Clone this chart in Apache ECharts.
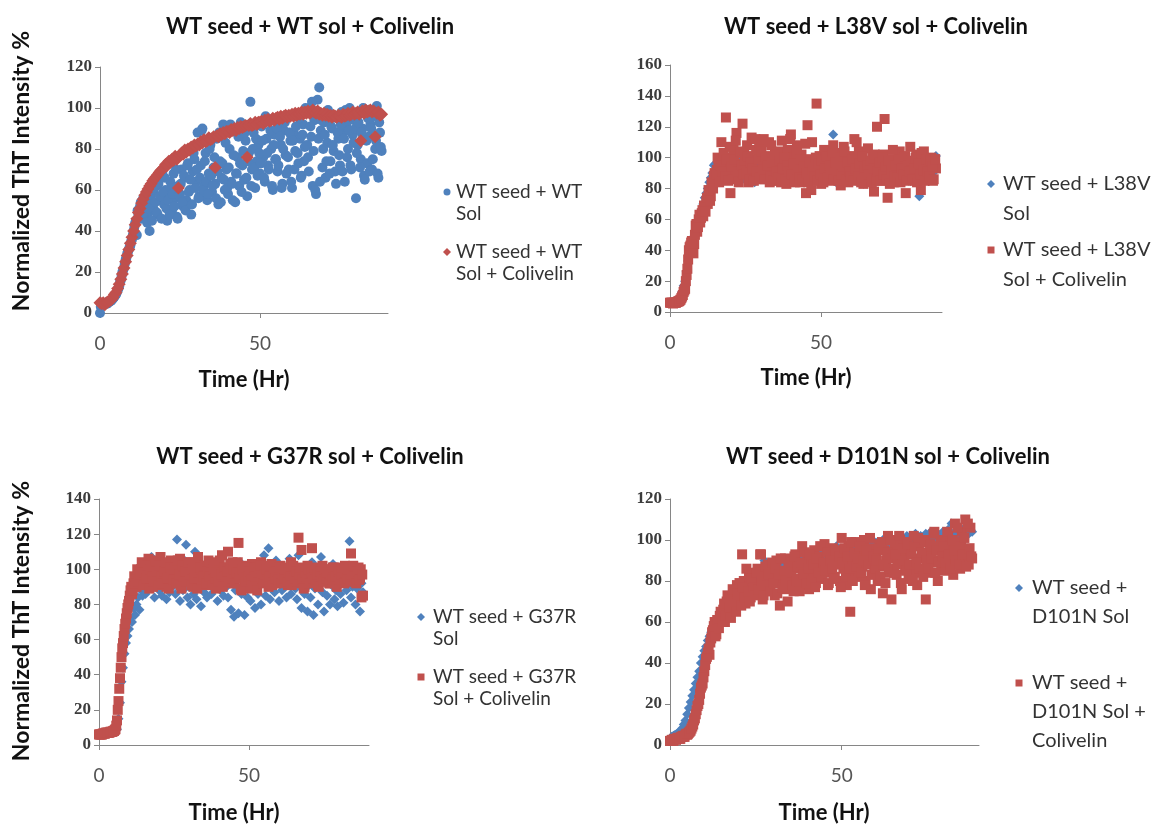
<!DOCTYPE html>
<html>
<head>
<meta charset="utf-8">
<script src="https://cdn.jsdelivr.net/npm/echarts@6/dist/echarts.min.js"></script>
<style>
  html, body { margin: 0; padding: 0; background: #fff; }
  #chart { width: 1159px; height: 825px; }
</style>
</head>
<body>
<div id="chart"></div>
<script>
// readings on the half hour, shared by all four runs
const hours = [
  0, 0.5, 1, 1.5, 2, 2.5, 3, 3.5, 4, 4.5,
  5, 5.5, 6, 6.5, 7, 7.5, 8, 8.5, 9, 9.5,
  10, 10.5, 11, 11.5, 12, 12.5, 13, 13.5, 14, 14.5,
  15, 15.5, 16, 16.5, 17, 17.5, 18, 18.5, 19, 19.5,
  20, 20.5, 21, 21.5, 22, 22.5, 23, 23.5, 24, 24.5,
  25, 25.5, 26, 26.5, 27, 27.5, 28, 28.5, 29, 29.5,
  30, 30.5, 31, 31.5, 32, 32.5, 33, 33.5, 34, 34.5,
  35, 35.5, 36, 36.5, 37, 37.5, 38, 38.5, 39, 39.5,
  40, 40.5, 41, 41.5, 42, 42.5, 43, 43.5, 44, 44.5,
  45, 45.5, 46, 46.5, 47, 47.5, 48, 48.5, 49, 49.5,
  50, 50.5, 51, 51.5, 52, 52.5, 53, 53.5, 54, 54.5,
  55, 55.5, 56, 56.5, 57, 57.5, 58, 58.5, 59, 59.5,
  60, 60.5, 61, 61.5, 62, 62.5, 63, 63.5, 64, 64.5,
  65, 65.5, 66, 66.5, 67, 67.5, 68, 68.5, 69, 69.5,
  70, 70.5, 71, 71.5, 72, 72.5, 73, 73.5, 74, 74.5,
  75, 75.5, 76, 76.5, 77, 77.5, 78, 78.5, 79, 79.5,
  80, 80.5, 81, 81.5, 82, 82.5, 83, 83.5, 84, 84.5,
  85, 85.5, 86, 86.5, 87, 87.5, 88
];
// in-between readings (quarter past / quarter to)
const hoursB = [
  0.25, 0.75, 1.25, 1.75, 2.25, 2.75, 3.25, 3.75, 4.25, 4.75,
  5.25, 5.75, 6.25, 6.75, 7.25, 7.75, 8.25, 8.75, 9.25, 9.75,
  10.25, 10.75, 11.25, 11.75, 12.25, 12.75, 13.25, 13.75, 14.25, 14.75,
  15.25, 15.75, 16.25, 16.75, 17.25, 17.75, 18.25, 18.75, 19.25, 19.75,
  20.25, 20.75, 21.25, 21.75, 22.25, 22.75, 23.25, 23.75, 24.25, 24.75,
  25.25, 25.75, 26.25, 26.75, 27.25, 27.75, 28.25, 28.75, 29.25, 29.75,
  30.25, 30.75, 31.25, 31.75, 32.25, 32.75, 33.25, 33.75, 34.25, 34.75,
  35.25, 35.75, 36.25, 36.75, 37.25, 37.75, 38.25, 38.75, 39.25, 39.75,
  40.25, 40.75, 41.25, 41.75, 42.25, 42.75, 43.25, 43.75, 44.25, 44.75,
  45.25, 45.75, 46.25, 46.75, 47.25, 47.75, 48.25, 48.75, 49.25, 49.75,
  50.25, 50.75, 51.25, 51.75, 52.25, 52.75, 53.25, 53.75, 54.25, 54.75,
  55.25, 55.75, 56.25, 56.75, 57.25, 57.75, 58.25, 58.75, 59.25, 59.75,
  60.25, 60.75, 61.25, 61.75, 62.25, 62.75, 63.25, 63.75, 64.25, 64.75,
  65.25, 65.75, 66.25, 66.75, 67.25, 67.75, 68.25, 68.75, 69.25, 69.75,
  70.25, 70.75, 71.25, 71.75, 72.25, 72.75, 73.25, 73.75, 74.25, 74.75,
  75.25, 75.75, 76.25, 76.75, 77.25, 77.75, 78.25, 78.75, 79.25, 79.75,
  80.25, 80.75, 81.25, 81.75, 82.25, 82.75, 83.25, 83.75, 84.25, 84.75,
  85.25, 85.75, 86.25, 86.75, 87.25, 87.75
];

// --- WT seed + WT sol ---
const wtSol = [
  0, 4, 4, 4.5, 5, 5, 5.5, 6, 7, 8,
  9, 11, 13, 16, 20, 22, 26, 29, 31, 33,
  36, 40, 44, 38, 48, 52, 46, 56, 50, 55,
  47, 40, 58, 52, 50, 62, 48, 65, 55, 69,
  53, 60, 45, 57, 64, 50, 68, 56, 47, 62,
  58, 70, 52, 66, 55, 73, 60, 48, 69, 75,
  64, 88, 57, 72, 90, 62, 78, 55, 68, 82,
  59, 71, 63, 85, 53, 74, 66, 92, 60, 70,
  58, 80, 64, 55, 89, 68, 76, 62, 93, 72,
  65, 84, 57, 78, 103, 70, 88, 61, 74, 82,
  68, 91, 76, 64, 85, 72, 94, 80, 60, 87,
  75, 69, 92, 82, 63, 89, 77, 95, 70, 84,
  61, 88, 79, 96, 73, 85, 67, 92, 81, 98,
  76, 100, 86, 62, 94, 58, 104, 110, 89, 71,
  93, 66, 83, 97, 74, 90, 79, 69, 95, 85,
  72, 98, 88, 64, 92, 80, 100, 70, 87, 94,
  56, 82, 97, 75, 90, 67, 99, 73, 86, 92,
  70, 96, 80, 101, 66, 88, 79
];
const wtSolB = [
  3, 4, 4.5, 5, 4.5, 5.5, 6, 6.5, 7.5, 8.5,
  10, 12, 15, 18, 21, 24, 27, 30, 32, 35,
  38, 42, 45, 50, 47, 54, 53, 49, 57, 44,
  51, 56, 45, 60, 54, 49, 63, 57, 46, 59,
  66, 51, 55, 48, 61, 58, 52, 70, 46, 57,
  63, 54, 67, 50, 72, 59, 65, 53, 78, 61,
  70, 56, 66, 89, 60, 74, 64, 58, 80, 67,
  62, 76, 56, 69, 88, 54, 73, 65, 83, 61,
  71, 92, 63, 77, 54, 68, 86, 73, 59, 79,
  88, 66, 74, 92, 62, 80, 71, 85, 67, 78,
  73, 84, 66, 96, 78, 70, 89, 62, 82, 75,
  90, 72, 86, 61, 80, 93, 68, 76, 88, 64,
  84, 70, 91, 78, 95, 66, 87, 74, 100, 82,
  69, 91, 103, 79, 60, 96, 85, 64, 94, 80,
  87, 74, 99, 68, 91, 82, 96, 63, 88, 77,
  92, 69, 85, 99, 76, 89, 72, 96, 83, 90,
  78, 93, 71, 88, 100, 65, 84, 95, 69, 90,
  75, 97, 84, 68, 93, 81
];
const wtSolCol = [
  5, 4.5, 5, 4, 5, 5.5, 6, 6.5, 7.5, 9,
  10, 12, 14, 16.5, 19, 22, 25, 28, 31, 34,
  37, 40, 43, 46, 49, 51, 53.5, 55.5, 57.5, 59,
  60.5, 62, 63, 64.5, 65.5, 66.5, 67.5, 68.5, 69.5, 70,
  71, 72.5, 72, 74, 73.5, 75, 74.5, 76.5, 75, 61,
  77, 78, 77.5, 79.5, 78.5, 80, 79.5, 81, 80.5, 82,
  81.5, 82.5, 82, 83.5, 83, 84.5, 83.5, 84, 85.5, 84.5,
  85, 86, 71, 86.5, 86, 87.5, 87, 88, 87.5, 88.5,
  88.5, 88, 89.5, 89, 90, 89, 90.5, 90, 91, 90.5,
  91, 91.5, 76, 91.5, 92.5, 91.5, 92, 93, 92, 93,
  93, 93.5, 92.5, 94, 93.5, 94.5, 93.5, 94, 95, 94,
  95, 95.5, 94.5, 96, 95, 96, 96.5, 95.5, 96.5, 96,
  97, 96, 97.5, 96.5, 97.5, 97, 98, 97, 98, 97.5,
  98.5, 97.5, 98, 99, 98, 97.5, 98.5, 97, 97.5, 96.5,
  97.5, 96.5, 97, 96, 96.5, 95.5, 96.5, 96, 95.5, 96.5,
  96, 95.5, 97, 96, 96.5, 97.5, 96.5, 97, 98, 97,
  97.5, 98, 97, 84, 98.5, 97.5, 99, 98, 98.5, 99,
  98, 98.5, 86, 97.5, 98, 96.5, 97
];

// --- WT seed + L38V sol ---
const l38vSol = [
  6, 6, 6, 6, 6.5, 7, 8, 10, 13, 17,
  20, 26, 33, 40, 44, 47, 49, 52, 55, 60,
  63, 66, 70, 74, 77, 80, 84, 87, 90, 95,
  96, 92, 88, 94, 90, 97, 86, 93, 99, 91,
  89, 95, 102, 87, 93, 98, 90, 85, 96, 92,
  88, 94, 99, 86, 91, 97, 84, 93, 100, 89,
  95, 87, 92, 98, 85, 90, 96, 88, 101, 93,
  86, 94, 89, 97, 91, 84, 99, 92, 87, 95,
  90, 98, 85, 93, 88, 96, 91, 86, 94, 99,
  87, 92, 97, 84, 90, 95, 88, 93, 86, 98,
  91, 85, 94, 89, 97, 87, 92, 96, 115, 90,
  84, 93, 98, 88, 91, 86, 95, 89, 100, 92,
  87, 94, 90, 85, 97, 91, 88, 96, 83, 93,
  98, 89, 92, 86, 95, 90, 84, 97, 91, 88,
  93, 87, 96, 90, 85, 94, 89, 92, 86, 98,
  91, 84, 95, 88, 93, 87, 97, 90, 85, 94,
  89, 96, 86, 92, 88, 75, 94, 90, 97, 87,
  92, 85, 95, 89, 98, 91, 101
];
const l38vSolCol = [
  6, 6, 5.5, 6, 6, 6.5, 7, 8, 10, 13,
  15, 24, 34, 42, 45, 41, 44, 56, 52, 60,
  58, 64, 62, 68, 72, 70, 78, 75, 82, 88,
  85, 92, 96, 88, 110, 94, 86, 126, 92, 98,
  77, 100, 105, 90, 116, 88, 96, 93, 122, 103,
  95, 108, 84, 91, 113, 99, 87, 105, 92, 110,
  86, 97, 112, 89, 101, 94, 84, 108, 96, 90,
  99, 85, 104, 92, 111, 88, 97, 83, 105, 93,
  115, 86, 100, 91, 108, 95, 84, 102, 90, 97,
  77, 121, 88, 99, 110, 92, 86, 135, 94, 101,
  83, 96, 105, 89, 92, 100, 85, 98, 108, 91,
  87, 103, 94, 82, 99, 107, 90, 96, 84, 101,
  93, 88, 112, 95, 86, 104, 91, 98, 83, 97,
  92, 106, 87, 95, 100, 78, 89, 120, 97, 93,
  85, 102, 125, 91, 74, 96, 88, 99, 84, 94,
  96, 90, 104, 86, 93, 100, 77, 95, 88, 107,
  91, 97, 85, 102, 89, 94, 79, 98, 104, 90,
  87, 96, 92, 100, 85, 97, 93
];
const l38vSolColB = [
  6, 6, 6, 6, 6.5, 7, 7.5, 9, 11, 14,
  20, 28, 40, 43, 46, 38, 50, 57, 55, 63,
  61, 66, 69, 65, 74, 79, 72, 84, 80, 90,
  89, 100, 84, 95, 91, 103, 88, 99, 85, 107,
  94, 86, 99, 111, 91, 84, 104, 95, 89, 98,
  90, 101, 86, 97, 93, 85, 112, 91, 99, 87,
  104, 92, 86, 100, 95, 110, 88, 97, 85, 102,
  91, 87, 98, 84, 93, 100, 86, 95, 91, 112,
  89, 96, 84, 103, 92, 87, 99, 86, 94, 109,
  90, 84, 97, 79, 92, 88, 100, 85, 96, 89,
  98, 84, 93, 101, 87, 95, 90, 103, 86, 97,
  92, 85, 100, 89, 94, 104, 86, 97, 91, 88,
  99, 85, 93, 110, 88, 96, 84, 101, 92, 87,
  95, 89, 98, 84, 93, 102, 86, 91, 97, 85,
  100, 89, 94, 86, 98, 83, 92, 105, 88, 95,
  87, 99, 84, 93, 89, 101, 85, 95, 91, 98,
  86, 93, 100, 84, 96, 89, 103, 92, 85, 99,
  91, 88, 98, 94, 86, 99
];

// --- WT seed + G37R sol ---
const g37rSol = [
  6, 6, 6, 6.5, 6.5, 7, 7, 7, 7.5, 7.5,
  8, 8, 9, 15, 24, 36, 44, 52, 58, 62,
  66, 72, 70, 78, 74, 80, 84, 77, 88, 85,
  92, 86, 96, 100, 90, 107, 95, 84, 102, 93,
  88, 98, 85, 103, 92, 83, 99, 87, 96, 90,
  101, 86, 117, 93, 82, 97, 88, 105, 114, 84,
  90, 80, 99, 86, 110, 83, 95, 102, 79, 92,
  87, 98, 84, 104, 91, 86, 100, 89, 95, 82,
  93, 88, 101, 85, 97, 90, 84, 99, 77, 92,
  73, 88, 96, 75, 104, 86, 91, 74, 98, 84,
  100, 82, 94, 89, 78, 103, 86, 96, 80, 92,
  108, 85, 97, 112, 83, 91, 99, 87, 105, 94,
  82, 96, 88, 101, 90, 84, 97, 106, 86, 93,
  100, 89, 83, 108, 95, 78, 92, 86, 99, 76,
  91, 84, 104, 74, 89, 97, 80, 93, 107, 87,
  76, 95, 85, 99, 80, 91, 103, 83, 88, 79,
  96, 86, 101, 81, 92, 88, 98, 116, 84, 90,
  95, 80, 89, 99, 76, 92, 87
];
const g37rSolCol = [
  6, 6, 6, 6.5, 6.5, 7, 7, 7, 7.5, 7.5,
  8, 9, 14, 25, 38, 50, 58, 66, 72, 78,
  82, 88, 86, 92, 95, 90, 98, 94, 100, 96,
  103, 92, 99, 106, 95, 101, 90, 97, 104, 93,
  99, 107, 94, 101, 96, 90, 103, 98, 105, 92,
  97, 101, 94, 100, 106, 89, 98, 103, 95, 100,
  93, 104, 98, 90, 101, 96, 107, 94, 99, 102,
  95, 100, 91, 105, 98, 94, 102, 97, 89, 103,
  99, 93, 108, 96, 101, 94, 110, 98, 92, 104,
  97, 100, 95, 115, 99, 88, 102, 94, 98, 101,
  89, 97, 103, 95, 100, 92, 98, 96, 104, 93,
  99, 95, 101, 90, 97, 103, 94, 98, 92, 100,
  96, 102, 93, 99, 95, 101, 91, 97, 104, 94,
  98, 92, 100, 118, 95, 111, 97, 90, 99, 102,
  94, 96, 112, 93, 100, 97, 91, 99, 95, 102,
  97, 93, 100, 96, 92, 98, 101, 94, 99, 96,
  95, 100, 93, 97, 102, 94, 98, 96, 109, 100,
  93, 99, 96, 101, 95, 84, 85
];
const g37rSolColB = [
  6, 6, 6.5, 6.5, 7, 7, 7, 7.5, 7.5, 8,
  8.5, 11, 20, 32, 44, 55, 62, 69, 75, 80,
  85, 90, 88, 96, 92, 100, 93, 97, 104, 91,
  98, 95, 102, 89, 100, 96, 93, 105, 99, 91,
  102, 96, 92, 99, 104, 95, 89, 101, 97, 94,
  100, 92, 105, 97, 91, 102, 96, 99, 93, 104,
  97, 91, 100, 95, 103, 89, 98, 101, 94, 96,
  102, 92, 99, 96, 104, 91, 100, 95, 98, 93,
  105, 97, 90, 101, 96, 99, 93, 103, 95, 100,
  92, 98, 104, 95, 89, 100, 97, 93, 101, 96,
  99, 94, 91, 101, 96, 88, 98, 102, 95, 92,
  97, 100, 93, 96, 102, 91, 98, 95, 99, 94,
  101, 92, 97, 95, 100, 93, 98, 96, 91, 102,
  95, 99, 93, 97, 101, 94, 89, 98, 96, 100,
  92, 98, 95, 101, 94, 97, 90, 99, 96, 93,
  100, 95, 98, 92, 97, 94, 101, 96, 90, 99,
  94, 97, 101, 92, 98, 95, 100, 93, 97, 102,
  96, 92, 99, 94, 100, 97
];

// --- WT seed + D101N sol ---
const d101nSol = [
  3, 4, 4.5, 5, 5.5, 6, 7, 8, 10, 12,
  15, 18, 21, 24, 27, 30, 33, 36, 40, 43,
  46, 48, 51, 53, 55, 57, 59, 61, 62, 64,
  65, 67, 68, 69, 71, 72, 73, 74, 75, 76,
  77, 78, 76, 79, 80, 78, 81, 79, 82, 80,
  83, 81, 84, 82, 85, 90, 83, 86, 84, 87,
  88, 85, 89, 87, 90, 88, 86, 91, 89, 87,
  90, 88, 92, 89, 87, 91, 93, 88, 90, 92,
  89, 93, 91, 88, 94, 90, 92, 95, 89, 93,
  91, 94, 96, 90, 93, 95, 92, 97, 94, 91,
  95, 93, 96, 94, 92, 97, 95, 93, 98, 96,
  94, 97, 95, 99, 96, 93, 98, 96, 100, 97,
  95, 99, 97, 96, 100, 98, 95, 101, 97, 99,
  98, 96, 100, 99, 97, 101, 99, 98, 102, 100,
  97, 101, 99, 103, 100, 98, 102, 100, 99, 103,
  101, 99, 104, 100, 102, 98, 103, 101, 100, 104,
  102, 100, 105, 101, 108, 103, 100, 104, 102, 106,
  101, 104, 102, 107, 103, 105, 104
];
const d101nSolCol = [
  2, 2.5, 2, 3, 3, 3.5, 3, 4, 4, 5,
  5, 6, 7, 9, 12, 15, 19, 22, 28, 30,
  36, 42, 45, 44, 52, 56, 60, 54, 58, 63,
  62, 66, 60, 70, 64, 72, 68, 75, 66, 78,
  70, 74, 93, 80, 69, 76, 82, 72, 84, 78,
  74, 86, 79, 93, 71, 83, 77, 88, 75, 81,
  85, 73, 90, 80, 68, 84, 78, 91, 76, 87,
  82, 89, 75, 93, 81, 86, 78, 97, 84, 80,
  90, 76, 87, 83, 95, 79, 88, 92, 81, 86,
  98, 84, 78, 91, 87, 96, 82, 89, 93, 80,
  101, 86, 92, 78, 97, 65, 90, 84, 99, 88,
  82, 94, 87, 100, 80, 91, 96, 76, 89, 85,
  93, 80, 98, 87, 74, 95, 90, 102, 84, 71,
  92, 97, 83, 89, 100, 76, 94, 86, 99, 81,
  95, 88, 102, 84, 78, 97, 91, 86, 100, 71,
  93, 89, 97, 84, 104, 90, 80, 96, 87, 100,
  85, 94, 102, 89, 97, 83, 108, 92, 99, 86,
  104, 90, 110, 95, 88, 106, 91
];
const d101nSolColB = [
  2, 2.5, 3, 2.5, 3.5, 3, 4, 4.5, 4, 5.5,
  5.5, 6.5, 8, 10, 13, 17, 20, 25, 29, 33,
  39, 43, 47, 50, 55, 58, 53, 61, 57, 65,
  60, 69, 63, 73, 67, 62, 76, 70, 65, 74,
  79, 68, 77, 72, 86, 75, 70, 81, 77, 73,
  84, 76, 93, 80, 73, 87, 78, 83, 75, 89,
  79, 86, 74, 83, 91, 77, 85, 80, 70, 88,
  84, 78, 92, 80, 87, 75, 89, 83, 94, 79,
  86, 93, 80, 88, 77, 91, 84, 97, 82, 89,
  85, 94, 79, 90, 86, 81, 95, 88, 92, 77,
  89, 96, 82, 92, 86, 99, 80, 94, 87, 91,
  97, 84, 90, 78, 95, 88, 101, 83, 92, 86,
  90, 96, 82, 99, 88, 79, 94, 86, 100, 91,
  84, 93, 88, 102, 79, 96, 90, 85, 98, 88,
  93, 80, 97, 89, 101, 86, 94, 82, 99, 90,
  86, 98, 91, 103, 84, 95, 89, 100, 92, 97,
  89, 104, 93, 86, 100, 95, 90, 106, 88, 97,
  93, 101, 87, 108, 96, 92
];

const yMax = [120, 160, 140, 120];
const titles = [
  'WT seed + WT sol + Colivelin',
  'WT seed + L38V sol + Colivelin',
  'WT seed + G37R sol + Colivelin',
  'WT seed + D101N sol + Colivelin'
];
const legendNames = [
  ['WT seed + WT\nSol', 'WT seed + WT\nSol + Colivelin'],
  ['WT seed + L38V\nSol', 'WT seed + L38V\nSol + Colivelin'],
  ['WT seed + G37R\nSol', 'WT seed + G37R\nSol + Colivelin'],
  ['WT seed +\nD101N Sol', 'WT seed +\nD101N Sol +\nColivelin']
];

const BLUE = '#4f81bd';
const RED = '#c0504d';
const AXIS = '#868686';
const FONT = 'Lato';

const grids = [
  { left: 100, top: 67, width: 288, height: 246 },
  { left: 670, top: 65, width: 272, height: 247 },
  { left: 99, top: 499, width: 270, height: 246 },
  { left: 670, top: 499, width: 309, height: 246 }
];

function pairs(ts, vals) {
  return ts.map((t, i) => [t, vals[i]]);
}

const xAxes = grids.map((g, i) => ({
  gridIndex: i, type: 'value', min: 0, max: 90, interval: 50,
  splitLine: { show: false },
  axisLine: { lineStyle: { color: AXIS } },
  axisTick: { show: true, length: 5, lineStyle: { color: AXIS }, customValues: [0, 50] },
  axisLabel: {
    customValues: [0, 50], margin: 21,
    color: '#555', fontSize: 19, fontFamily: FONT
  }
}));

const yAxes = grids.map((g, i) => ({
  gridIndex: i, type: 'value', min: 0, max: yMax[i], interval: 20,
  splitLine: { show: false },
  axisLine: { show: true, lineStyle: { color: AXIS } },
  axisTick: { show: true, length: 5, lineStyle: { color: AXIS } },
  axisLabel: {
    margin: 8, color: '#3c3c3c', fontSize: 17, fontWeight: 'bold',
    fontFamily: 'Liberation Serif'
  }
}));

// [blue values, blue extra, red values, red extra, blue symbol, red symbol, blue size, red size]
const seriesDefs = [
  [wtSol, wtSolB, wtSolCol, null, 'circle', 'diamond', 10, 13],
  [l38vSol, null, l38vSolCol, l38vSolColB, 'diamond', 'rect', 10, 10],
  [g37rSol, null, g37rSolCol, g37rSolColB, 'diamond', 'rect', 10, 10],
  [d101nSol, null, d101nSolCol, d101nSolColB, 'diamond', 'rect', 10, 10]
];

function join(a, b) {
  const d = pairs(hours, a);
  return b ? d.concat(pairs(hoursB, b)) : d;
}

const series = [];
seriesDefs.forEach((d, i) => {
  series.push({
    name: legendNames[i][0], type: 'scatter', xAxisIndex: i, yAxisIndex: i,
    symbol: d[4], symbolSize: d[6], itemStyle: { color: BLUE, opacity: 1 },
    data: join(d[0], d[1])
  });
  series.push({
    name: legendNames[i][1], type: 'scatter', xAxisIndex: i, yAxisIndex: i,
    symbol: d[5], symbolSize: d[7], itemStyle: { color: RED, opacity: 1 },
    data: join(d[2], d[3])
  });
});

// text layout: titles, axis names and the per-panel legends
const titlePos = [[310, 27], [876, 27], [310, 457], [888, 457]];
const timePos = [[244, 380], [806, 378], [234, 813], [824, 813]];
const legendLayout = [
  { x: 456, mx: 447, ys: [192, 252], lh: 22, fs: 19 },
  { x: 1003, mx: 991, ys: [184, 250], lh: 30, fs: 20 },
  { x: 433, mx: 421, ys: [617, 677], lh: 22, fs: 19 },
  { x: 1032, mx: 1019, ys: [588, 683], lh: 29, fs: 20 }
];

const graphic = [];
titles.forEach((t, i) => {
  graphic.push({
    type: 'text', x: titlePos[i][0], y: titlePos[i][1],
    style: { text: t, fill: '#111', fontSize: 22, fontWeight: 'bold', fontFamily: FONT, align: 'center', verticalAlign: 'middle' }
  });
  graphic.push({
    type: 'text', x: timePos[i][0], y: timePos[i][1],
    style: { text: 'Time (Hr)', fill: '#111', fontSize: 22, fontWeight: 'bold', fontFamily: FONT, align: 'center', verticalAlign: 'middle' }
  });
});
[[22, 171], [22, 621]].forEach(p => {
  graphic.push({
    type: 'text', x: p[0], y: p[1], rotation: Math.PI / 2,
    style: { text: 'Normalized ThT Intensity %', fill: '#111', fontSize: 23, fontWeight: 'bold', fontFamily: FONT, align: 'center', verticalAlign: 'middle' }
  });
});

function marker(kind, cx, cy, color) {
  if (kind === 'circle') return { type: 'circle', shape: { cx, cy, r: 3.5 }, style: { fill: color } };
  if (kind === 'rect') return { type: 'rect', shape: { x: cx - 3.5, y: cy - 3.5, width: 7, height: 7 }, style: { fill: color } };
  return { type: 'polygon', shape: { points: [[cx, cy - 4], [cx + 4, cy], [cx, cy + 4], [cx - 4, cy]] }, style: { fill: color } };
}

legendLayout.forEach((L, i) => {
  const kinds = [seriesDefs[i][4], seriesDefs[i][5]];
  const colors = [BLUE, RED];
  [0, 1].forEach(k => {
    graphic.push(marker(kinds[k], L.mx, L.ys[k], colors[k]));
    graphic.push({
      type: 'text', x: L.x, y: L.ys[k] - L.lh / 2,
      style: { text: legendNames[i][k], fill: '#333', fontSize: L.fs, fontFamily: FONT, lineHeight: L.lh, align: 'left', verticalAlign: 'top' }
    });
  });
});

const chart = echarts.init(document.getElementById('chart'));
chart.setOption({
  animation: false,
  backgroundColor: '#fff',
  grid: grids,
  xAxis: xAxes,
  yAxis: yAxes,
  series,
  graphic
});
</script>
</body>
</html>
